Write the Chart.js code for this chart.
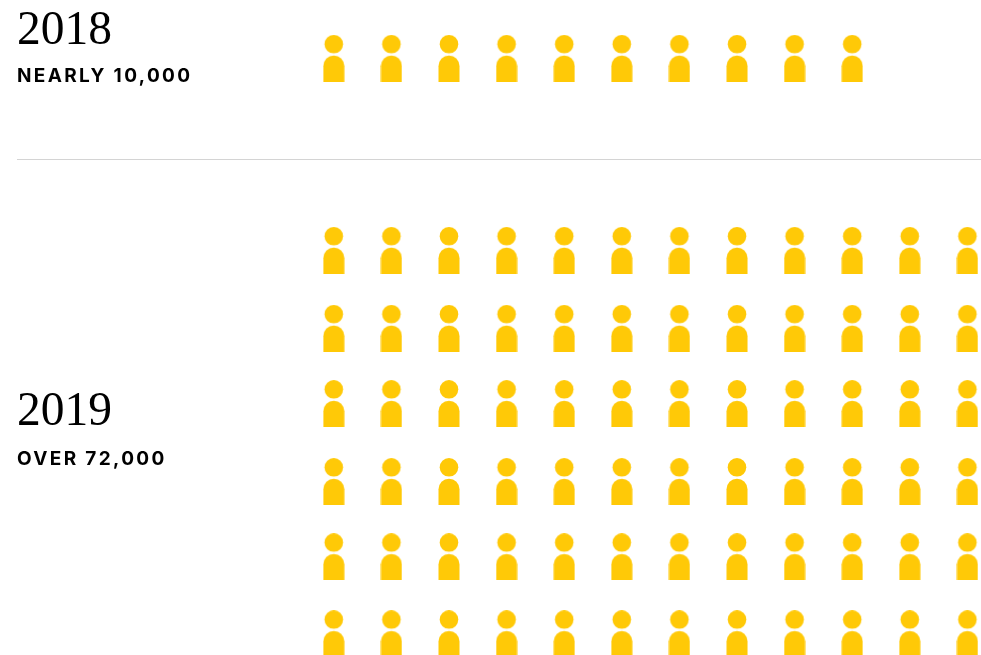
<!DOCTYPE html>
<html>
<head>
<meta charset="utf-8">
<title>2018 vs 2019</title>
<script src="https://cdn.jsdelivr.net/npm/chart.js@4"></script>
<style>
  html, body { margin: 0; padding: 0; background: #fff; overflow: hidden; }
  #wrap { position: relative; width: 981px; height: 655px; overflow: hidden; }
  #peopleChart { position: absolute; left: 0; top: 0; }
  .year { position: absolute; left: 17px; font: 400 47.5px/48px "Liberation Serif", serif; color: #000; }
  .count { position: absolute; left: 17px; font: 700 19px/22px Inter, sans-serif; letter-spacing: 2.35px; color: #000; }
  #rule { position: absolute; left: 17px; top: 159px; width: 964px; height: 1px; background: #d4d4d4; }
</style>
</head>
<body>
<div id="wrap">
  <canvas id="peopleChart" width="981" height="655"></canvas>
  <div class="year" style="top:4px">2018</div>
  <div class="count" style="top:65px">NEARLY 10,000</div>
  <div id="rule"></div>
  <div class="year" style="top:385px">2019</div>
  <div class="count" style="top:448px">OVER 72,000</div>
</div>
<script>
// One icon stands for 1,000 people
const years = ["2018", "2019"];
const iconCounts = [10, 72];
const iconsPerRow = 12;
// Row slots (the rows are not quite evenly spaced)
const rows2018 = [-2.507];
const rows2019 = [0, 1.018, 2, 3.018, 4, 5.005];

const iconColor = "#ffc907";

// Person icon, used as the point style
const makePerson = () => {
  const icon = document.createElement("canvas");
  icon.width = 22;
  icon.height = 47;
  const ctx = icon.getContext("2d");
  ctx.fillStyle = iconColor;
  ctx.beginPath();
  ctx.arc(11, 9.3, 9.3, 0, Math.PI * 2);
  ctx.fill();
  ctx.beginPath();
  ctx.moveTo(0.5, 47);
  ctx.lineTo(0.5, 31.2);
  ctx.arc(11, 31.2, 10.5, Math.PI, 0);
  ctx.lineTo(21.5, 47);
  ctx.closePath();
  ctx.fill();
  return icon;
};
const person = makePerson();

// Fill rows left to right until the count runs out
const buildPoints = (count, rows) => {
  const points = [];
  for (let i = 0; i < count; i++) {
    points.push({ x: i % iconsPerRow, y: rows[Math.floor(i / iconsPerRow)] });
  }
  return points;
};

new Chart(document.getElementById("peopleChart"), {
  type: "scatter",
  data: {
    datasets: [
      { label: years[0], data: buildPoints(iconCounts[0], rows2018) },
      { label: years[1], data: buildPoints(iconCounts[1], rows2019) },
    ],
  },
  options: {
    responsive: false,
    animation: false,
    layout: { padding: 0, autoPadding: false },
    elements: { point: { pointStyle: person, radius: 12 } },
    plugins: { legend: { display: false }, tooltip: { enabled: false } },
    scales: {
      x: { type: "linear", display: false, min: -5.795, max: 11.236 },
      y: { type: "linear", display: false, reverse: true, min: -3.268, max: 5.283 },
    },
  },
});
</script>
</body>
</html>
